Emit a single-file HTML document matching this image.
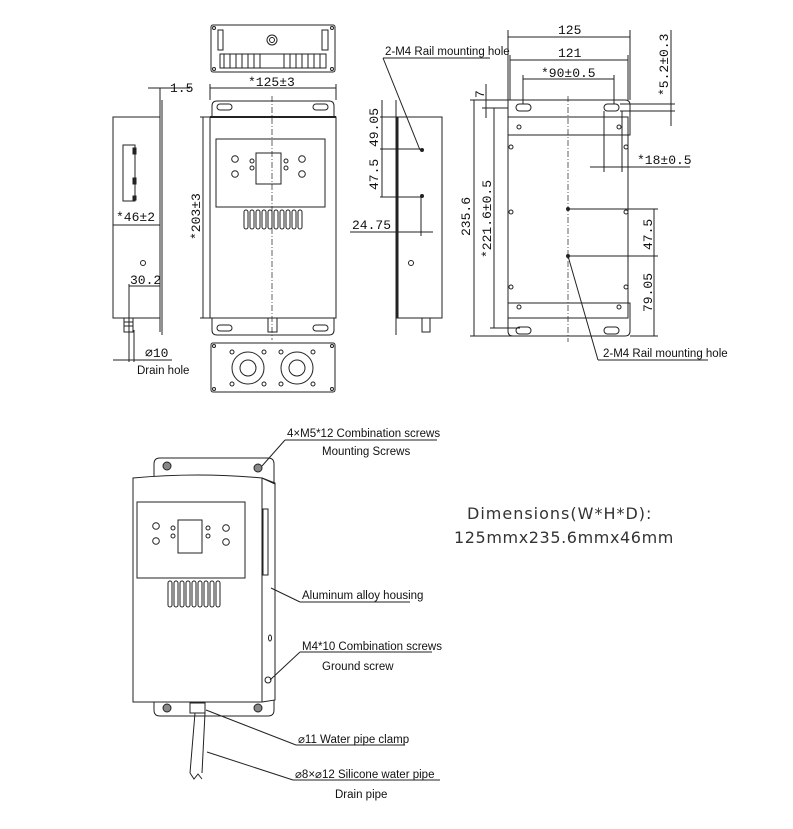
<!DOCTYPE html>
<html><head><style>
html,body{margin:0;padding:0;background:#fff;}
svg{display:block;}
text{font-family:"Liberation Sans Narrow","Liberation Sans",sans-serif;fill:#111;}
.d{font-family:"Liberation Mono",monospace;font-size:13px;}
.l{font-size:11.5px;}
</style></head><body>
<svg width="793" height="829" viewBox="0 0 793 829" xmlns="http://www.w3.org/2000/svg" fill="none" stroke="#222" stroke-width="1">
<!-- ===== Left side view ===== -->
<rect x="113" y="117" width="47" height="201"/>
<line x1="160" y1="88" x2="160" y2="332"/><line x1="162" y1="100" x2="162" y2="335"/>
<rect x="123" y="145" width="12" height="56"/>
<rect x="133" y="148" width="3" height="6" fill="#222"/><rect x="133" y="178" width="3" height="6" fill="#222"/><rect x="133" y="196" width="3" height="4" fill="#222"/>
<circle cx="143" cy="263" r="2.5"/>
<rect x="124" y="318" width="9" height="14"/>
<line x1="124" y1="322" x2="133" y2="322"/><line x1="124" y1="326" x2="133" y2="326"/>
<line x1="113" y1="225" x2="160" y2="225"/>
<text class="d" x="116" y="221" stroke="none">*46±2</text>
<line x1="148" y1="88" x2="162" y2="88"/><line x1="162" y1="88" x2="190" y2="88"/>
<text class="d" x="170" y="92" stroke="none">1.5</text>
<line x1="129" y1="286" x2="160" y2="286"/>
<text class="d" x="130" y="284" stroke="none">30.2</text>
<line x1="129" y1="284" x2="129" y2="362"/><line x1="134" y1="330" x2="134" y2="362"/>
<line x1="113" y1="360" x2="172" y2="360"/>
<text class="d" x="145" y="357" stroke="none">⌀10</text>
<text class="l" x="137" y="374" stroke="none">Drain hole</text>
<!-- ===== Top view ===== -->
<rect x="211" y="25" width="124" height="47" rx="2"/>
<circle cx="272" cy="40" r="5"/><circle cx="272" cy="40" r="2.5"/>
<rect x="218" y="30" width="5" height="20"/><rect x="322" y="30" width="6" height="20"/>
<rect x="220" y="54" width="106" height="14"/>
<path d="M224 54v14M230 54v14M236 54v14M242 54v14M248 54v14M254 54v14M260 54v14M284 54v14M290 54v14M296 54v14M302 54v14M308 54v14M314 54v14M320 54v14"/>
<circle cx="214" cy="28" r="1.5"/><circle cx="332" cy="28" r="1.5"/><circle cx="214" cy="69" r="1.5"/><circle cx="332" cy="69" r="1.5"/>
<!-- ===== Front view ===== -->
<line x1="210" y1="88" x2="336" y2="88"/>
<line x1="210" y1="84" x2="210" y2="100"/><line x1="336" y1="84" x2="336" y2="100"/>
<text class="d" x="248" y="86" stroke="none">*125±3</text>
<path d="M212 117V106q0-5 5-5h112q5 0 5 5v11"/>
<rect x="210" y="117" width="126" height="201"/>
<line x1="210" y1="117" x2="336" y2="117" stroke-width="2"/>
<rect x="217" y="104" width="15" height="6" rx="3"/><rect x="313" y="104" width="15" height="6" rx="3"/>
<path d="M212 318v12q0 5 5 5h112q5 0 5-5v-12"/>
<rect x="217" y="325" width="15" height="6" rx="3"/><rect x="313" y="325" width="15" height="6" rx="3"/>
<rect x="268" y="318" width="9" height="14"/>
<line x1="272" y1="96" x2="272" y2="340" stroke-dasharray="6 2 1 2" stroke-width=".7"/>
<rect x="216" y="139" width="109" height="68"/>
<rect x="256" y="153" width="25" height="31"/>
<circle cx="235" cy="159" r="3.3"/><circle cx="235" cy="174" r="3.3"/><circle cx="302" cy="159" r="3.3"/><circle cx="302" cy="174" r="3.3"/>
<circle cx="252" cy="161" r="2"/><circle cx="252" cy="168" r="2"/><circle cx="286" cy="161" r="2"/><circle cx="286" cy="168" r="2"/>
<g><rect x="244" y="210" width="4" height="19" rx="2"/><rect x="250" y="210" width="4" height="19" rx="2"/><rect x="256" y="210" width="4" height="19" rx="2"/><rect x="262" y="210" width="4" height="19" rx="2"/><rect x="268" y="210" width="4" height="19" rx="2"/><rect x="274" y="210" width="4" height="19" rx="2"/><rect x="280" y="210" width="4" height="19" rx="2"/><rect x="286" y="210" width="4" height="19" rx="2"/><rect x="292" y="210" width="4" height="19" rx="2"/><rect x="298" y="210" width="4" height="19" rx="2"/></g>
<line x1="200" y1="117" x2="210" y2="117"/><line x1="200" y1="318" x2="210" y2="318"/><line x1="203" y1="117" x2="203" y2="318"/>
<text class="d" transform="translate(200 240) rotate(-90)" stroke="none">*203±3</text>
<!-- bottom view -->
<rect x="211" y="343" width="124" height="49" rx="2"/>
<circle cx="248" cy="368" r="16"/><circle cx="248" cy="368" r="8"/><circle cx="297" cy="368" r="16"/><circle cx="297" cy="368" r="8"/>
<circle cx="232" cy="352" r="2"/><circle cx="264" cy="352" r="2"/><circle cx="232" cy="384" r="2"/><circle cx="264" cy="384" r="2"/>
<circle cx="281" cy="352" r="2"/><circle cx="313" cy="352" r="2"/><circle cx="281" cy="384" r="2"/><circle cx="313" cy="384" r="2"/>
<circle cx="214" cy="346" r="1.5"/><circle cx="332" cy="346" r="1.5"/><circle cx="214" cy="389" r="1.5"/><circle cx="332" cy="389" r="1.5"/>
<!-- ===== Right side view ===== -->
<line x1="396" y1="100" x2="396" y2="335"/><line x1="398" y1="117" x2="398" y2="318"/>
<rect x="397" y="117" width="45" height="201"/>
<circle cx="411" cy="263" r="2.5"/>
<rect x="422" y="318" width="8" height="14"/>
<line x1="380" y1="117" x2="396" y2="117"/><line x1="380" y1="149" x2="422" y2="149"/><line x1="380" y1="197" x2="422" y2="197"/>
<line x1="382" y1="100" x2="382" y2="197"/>
<text class="d" transform="translate(378 147) rotate(-90)" stroke="none">49.05</text>
<text class="d" transform="translate(378 190) rotate(-90)" stroke="none">47.5</text>
<circle cx="422" cy="150" r="1.5" fill="#222"/><circle cx="422" cy="196" r="1.5" fill="#222"/>
<line x1="421" y1="196" x2="421" y2="236"/>
<line x1="350" y1="232" x2="433" y2="232"/>
<text class="d" x="352" y="229" stroke="none">24.75</text>
<line x1="383" y1="58" x2="420" y2="150"/><line x1="383" y1="58" x2="490" y2="58"/>
<text class="l" x="385" y="55" stroke="none">2-M4 Rail mounting hole</text>
<!-- ===== Back view ===== -->
<path d="M508 100h117q5 0 5 5v30h-122z"/>
<rect x="508" y="117" width="120" height="201"/>
<path d="M508 303h122v28q0 5-5 5h-112q-5 0-5-5z"/>
<rect x="516" y="104" width="15" height="7" rx="3.5"/><rect x="604" y="104" width="15" height="7" rx="3.5"/>
<rect x="516" y="327" width="15" height="7" rx="3.5"/><rect x="604" y="327" width="15" height="7" rx="3.5"/>
<circle cx="519" cy="127" r="2"/><circle cx="619" cy="127" r="2"/><circle cx="511" cy="147" r="2"/><circle cx="626" cy="147" r="2"/>
<circle cx="511" cy="212" r="2"/><circle cx="626" cy="212" r="2"/><circle cx="511" cy="287" r="2"/><circle cx="626" cy="287" r="2"/>
<circle cx="519" cy="307" r="2"/><circle cx="619" cy="307" r="2"/>
<circle cx="568" cy="209" r="1.5" fill="#222"/><circle cx="568" cy="256" r="1.5" fill="#222"/>
<line x1="568" y1="96" x2="568" y2="342" stroke-dasharray="6 2 1 2" stroke-width=".7"/>
<line x1="508" y1="30" x2="508" y2="100"/><line x1="630" y1="30" x2="630" y2="100"/><line x1="508" y1="37" x2="630" y2="37"/>
<text class="d" x="558" y="34" stroke="none">125</text>
<line x1="510" y1="60" x2="628" y2="60"/><line x1="510" y1="55" x2="510" y2="100"/><line x1="628" y1="55" x2="628" y2="100"/>
<text class="d" x="558" y="57" stroke="none">121</text>
<line x1="523" y1="79" x2="614" y2="79"/><line x1="523" y1="75" x2="523" y2="104"/><line x1="614" y1="75" x2="614" y2="104"/>
<text class="d" x="541" y="77" stroke="none">*90±0.5</text>
<line x1="470" y1="100" x2="508" y2="100"/><line x1="482" y1="108" x2="508" y2="108"/><line x1="486" y1="84" x2="486" y2="118"/>
<text class="d" transform="translate(484 98) rotate(-90)" stroke="none">7</text>
<line x1="474" y1="100" x2="474" y2="336"/><line x1="470" y1="336" x2="568" y2="336"/>
<text class="d" transform="translate(470 236) rotate(-90)" stroke="none">235.6</text>
<line x1="494" y1="108" x2="494" y2="328"/><line x1="490" y1="328" x2="520" y2="328"/>
<text class="d" transform="translate(491 258) rotate(-90)" stroke="none">*221.6±0.5</text>
<line x1="620" y1="104" x2="675" y2="104"/><line x1="620" y1="111" x2="675" y2="111"/><line x1="671" y1="30" x2="671" y2="126"/>
<text class="d" transform="translate(668 96) rotate(-90)" stroke="none">*5.2±0.3</text>
<line x1="604" y1="111" x2="604" y2="172"/><line x1="622" y1="111" x2="622" y2="172"/><line x1="590" y1="167" x2="690" y2="167"/>
<text class="d" x="637" y="164" stroke="none">*18±0.5</text>
<line x1="568" y1="209" x2="658" y2="209"/><line x1="568" y1="256" x2="658" y2="256"/><line x1="654" y1="209" x2="654" y2="336"/><line x1="630" y1="336" x2="658" y2="336"/>
<text class="d" transform="translate(652 250) rotate(-90)" stroke="none">47.5</text>
<text class="d" transform="translate(652 312) rotate(-90)" stroke="none">79.05</text>
<line x1="568" y1="256" x2="598" y2="360"/><line x1="598" y1="360" x2="708" y2="360"/>
<text class="l" x="603" y="357" stroke="none">2-M4 Rail mounting hole</text>
<!-- ===== 3D view ===== -->
<path d="M160 458h108q6 0 6 6v246q0 6-6 6h-108q-6 0-6-6v-246q0-6 6-6z"/>
<path d="M133 478q65-6 129 0l13 5v217l-13 2h-129z" fill="#fff"/>
<path d="M262 478v224M262 478l13 6"/>
<rect x="137" y="502" width="108" height="76"/>
<rect x="178" y="520" width="24" height="33"/>
<circle cx="156" cy="526" r="3.3"/><circle cx="156" cy="541" r="3.3"/><circle cx="226" cy="528" r="3.3"/><circle cx="226" cy="542" r="3.3"/>
<circle cx="173" cy="528" r="2"/><circle cx="173" cy="536" r="2"/><circle cx="208" cy="528" r="2"/><circle cx="208" cy="536" r="2"/>
<g><rect x="168" y="581" width="4" height="26" rx="2"/><rect x="174" y="581" width="4" height="26" rx="2"/><rect x="180" y="581" width="4" height="26" rx="2"/><rect x="186" y="581" width="4" height="26" rx="2"/><rect x="192" y="581" width="4" height="26" rx="2"/><rect x="198" y="581" width="4" height="26" rx="2"/><rect x="204" y="581" width="4" height="26" rx="2"/><rect x="210" y="581" width="4" height="26" rx="2"/><rect x="216" y="581" width="4" height="26" rx="2"/></g>
<rect x="263" y="509" width="5" height="66"/>
<ellipse cx="270" cy="638" rx="1.5" ry="3"/>
<circle cx="268" cy="680" r="3"/>
<g fill="#888"><circle cx="167" cy="466" r="4"/><circle cx="258" cy="468" r="4"/><circle cx="167" cy="708" r="4"/><circle cx="258" cy="708" r="4"/></g>
<rect x="190" y="703" width="15" height="10"/>
<path d="M195 713l-5 60M205 713l-3 60M190 773l4 6 4-5 4 5"/>
<line x1="262" y1="466" x2="285" y2="440"/><line x1="285" y1="440" x2="437" y2="440"/>
<text class="l" x="287" y="437" stroke="none">4×M5*12 Combination screws</text>
<text class="l" x="322" y="455" stroke="none">Mounting Screws</text>
<line x1="271" y1="588" x2="300" y2="602"/><line x1="300" y1="602" x2="410" y2="602"/>
<text class="l" x="302" y="599" stroke="none">Aluminum alloy housing</text>
<line x1="270" y1="680" x2="300" y2="652"/><line x1="300" y1="652" x2="432" y2="652"/>
<text class="l" x="302" y="650" stroke="none">M4*10 Combination screws</text>
<text class="l" x="322" y="670" stroke="none">Ground screw</text>
<line x1="206" y1="710" x2="296" y2="745"/><line x1="296" y1="745" x2="405" y2="745"/>
<text class="l" x="298" y="743" stroke="none">⌀11 Water pipe clamp</text>
<line x1="207" y1="752" x2="293" y2="780"/><line x1="293" y1="780" x2="440" y2="780"/>
<text class="l" x="295" y="778" stroke="none">⌀8×⌀12 Silicone water pipe</text>
<text class="l" x="335" y="798" stroke="none">Drain pipe</text>
<text x="467" y="519" stroke="none" style="font-family:'DejaVu Sans',sans-serif;font-size:16px;letter-spacing:1px;fill:#333">Dimensions(W*H*D):</text>
<text x="454" y="543" stroke="none" style="font-family:'DejaVu Sans',sans-serif;font-size:16px;letter-spacing:0.6px;fill:#333">125mmx235.6mmx46mm</text>
</svg>
</body></html>
